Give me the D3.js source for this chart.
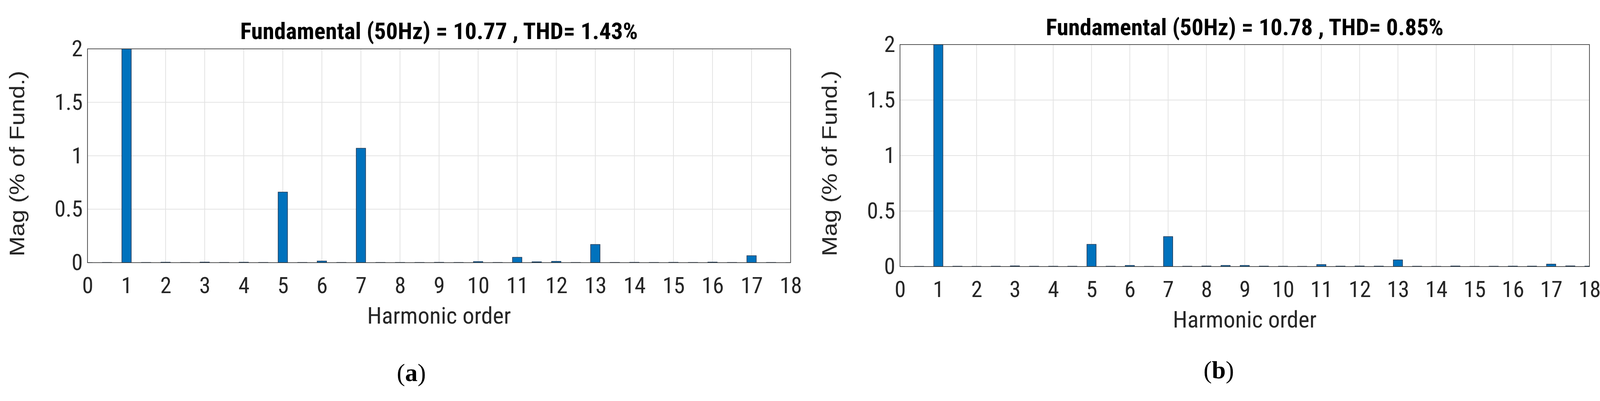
<!DOCTYPE html>
<html><head><meta charset="utf-8">
<script src="https://cdn.jsdelivr.net/npm/d3@7"></script>
<style>body{margin:0;background:#fff}svg{display:block}</style>
</head><body>
<svg id="c" width="4163" height="1026"></svg>
<script>
const orders = d3.range(0, 18.01, 0.5);
const magA = [0,0.002,100,0.002,0.004,0.002,0.005,0.002,0.004,0.002,0.66,0.002,0.015,0.002,1.07,0.002,0.002,0.002,0.003,0.002,0.01,0.002,0.05,0.008,0.012,0.002,0.17,0.002,0.003,0.002,0.003,0.002,0.005,0.002,0.065,0.002,0];
const magB = [0,0.002,100,0.003,0.002,0.003,0.006,0.003,0.003,0.003,0.2,0.003,0.01,0.002,0.27,0.003,0.005,0.01,0.01,0.004,0.003,0.002,0.018,0.004,0.005,0.004,0.06,0.003,0.002,0.005,0.002,0.003,0.004,0.004,0.022,0.006,0.004];
const xTicks = d3.range(0, 19);
const yTicks = [0, 0.5, 1, 1.5, 2];
const titles = ["Fundamental (50Hz) = 10.77 , THD= 1.43%", "Fundamental (50Hz) = 10.78 , THD= 0.85%"];
const captions = ["a", "b"];

const svg = d3.select("#c");
const narrow = "'Liberation Sans Narrow','Roboto Condensed',Roboto,sans-serif";
const panels = [
  {l:224, r:2024, t:125, b:672, tickY:730, labY:828, titleY:100, yLabX:62, capX:1053, capY:975, data:magA},
  {l:2304, r:4069, t:114, b:682, tickY:740, labY:838, titleY:90, yLabX:2142, capX:3120, capY:968, data:magB}
];
panels.forEach((p, i) => {
  const x = d3.scaleLinear().domain([0, 18]).range([p.l, p.r]);
  const y = d3.scaleLinear().domain([0, 2]).range([p.b, p.t]);
  const g = svg.append("g");
  const cid = "clip" + i;
  g.append("clipPath").attr("id", cid).append("rect").attr("x", p.l).attr("y", p.t).attr("width", p.r - p.l).attr("height", p.b - p.t);
  g.selectAll(".gx").data(xTicks).join("line").attr("x1", d => x(d)).attr("x2", d => x(d)).attr("y1", p.t).attr("y2", p.b).attr("stroke", "#e3e3e3").attr("stroke-width", 2);
  g.selectAll(".gy").data(yTicks).join("line").attr("y1", d => y(d)).attr("y2", d => y(d)).attr("x1", p.l).attr("x2", p.r).attr("stroke", "#e3e3e3").attr("stroke-width", 2);
  const bw = (x(1) - x(0)) * 0.24;
  g.append("g").attr("clip-path", `url(#${cid})`).selectAll("rect").data(orders.map((o, k) => [o, p.data[k]])).join("rect")
    .attr("x", d => x(d[0]) - bw / 2).attr("width", bw)
    .attr("y", d => y(Math.min(d[1], 2.1))).attr("height", d => Math.max(2, y(0) - y(Math.min(d[1], 2.1))))
    .attr("fill", "#0072BD").attr("stroke", "#233a55").attr("stroke-width", 1.5);
  g.append("rect").attr("x", p.l).attr("y", p.t).attr("width", p.r - p.l).attr("height", p.b - p.t).attr("fill", "none").attr("stroke", "#262626").attr("stroke-width", 1.5);
  const ax = d3.axisBottom(x).tickValues(xTicks).tickSize(0).tickPadding(0);
  const xa = g.append("g").attr("transform", `translate(0,${p.tickY})`).call(ax);
  xa.select(".domain").remove();
  xa.selectAll("text").attr("font-family", narrow).attr("font-size", 58).attr("fill", "#262626").attr("dy", "0.35em").attr("y", 0);
  const ay = d3.axisLeft(y).tickValues(yTicks).tickFormat(d3.format("")).tickSize(0).tickPadding(12);
  const ya = g.append("g").attr("transform", `translate(${p.l},0)`).call(ay);
  ya.select(".domain").remove();
  ya.selectAll("text").attr("font-family", narrow).attr("font-size", 58).attr("fill", "#262626");
  g.append("text").attr("x", (p.l + p.r) / 2).attr("y", p.labY).attr("text-anchor", "middle").attr("font-family", narrow).attr("font-size", 60).attr("fill", "#262626").text("Harmonic order");
  g.append("text").attr("transform", `translate(${p.yLabX},${(p.t + p.b) / 2 + 20}) rotate(-90)`).attr("text-anchor", "middle").attr("font-family", "'Liberation Sans',Arial,sans-serif").attr("font-size", 54).attr("textLength", 475).attr("lengthAdjust", "spacingAndGlyphs").attr("fill", "#262626").text("Mag (% of Fund.)");
  g.append("text").attr("x", (p.l + p.r) / 2).attr("y", p.titleY).attr("text-anchor", "middle").attr("font-family", narrow).attr("font-weight", "bold").attr("font-size", 60).attr("fill", "#000").text(titles[i]);
  const cap = g.append("text").attr("x", p.capX).attr("y", p.capY).attr("text-anchor", "middle").attr("font-family", "'Liberation Serif',serif").attr("font-size", 64).attr("fill", "#000");
  cap.append("tspan").text("(");
  cap.append("tspan").attr("font-weight", "bold").text(captions[i]);
  cap.append("tspan").text(")");
});
</script>
</body></html>
